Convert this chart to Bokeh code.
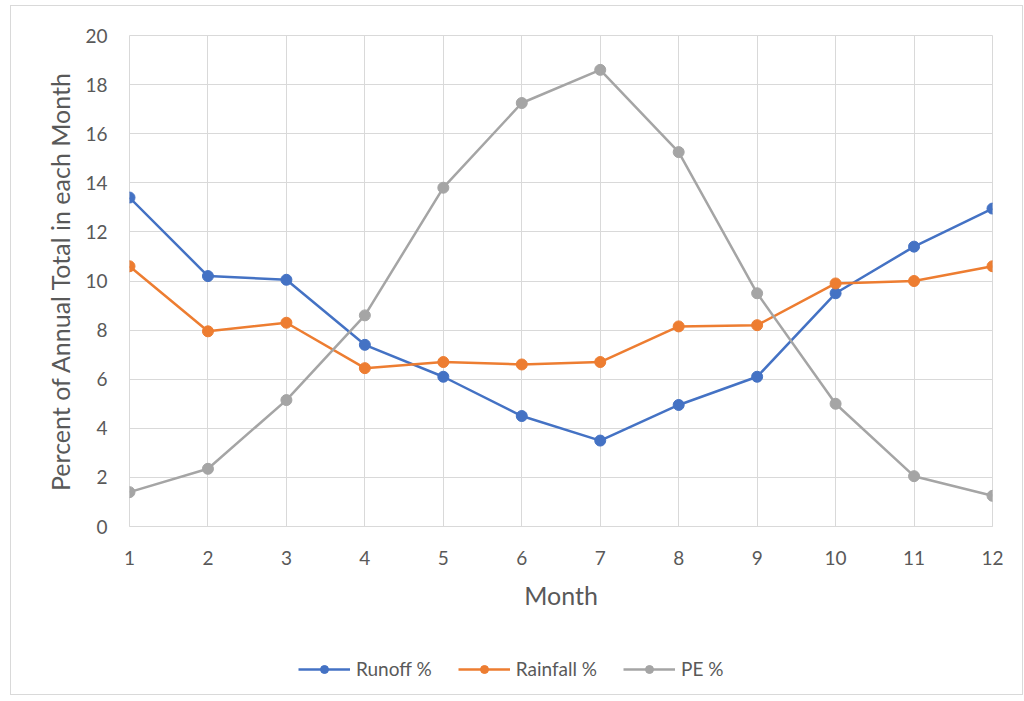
from bokeh.plotting import figure
from bokeh.layouts import column
from bokeh.models import Legend, LegendItem, FixedTicker, Range1d
from bokeh.embed import file_html
from bokeh.resources import INLINE

months = [1, 2, 3, 4, 5, 6, 7, 8, 9, 10, 11, 12]
runoff = [13.4, 10.2, 10.05, 7.4, 6.1, 4.5, 3.5, 4.95, 6.1, 9.5, 11.4, 12.95]
rainfall = [10.6, 7.95, 8.3, 6.45, 6.7, 6.6, 6.7, 8.15, 8.2, 9.9, 10.0, 10.6]
pe = [1.4, 2.35, 5.15, 8.6, 13.8, 17.25, 18.6, 15.25, 9.5, 5.0, 2.05, 1.25]
series_names = ["Runoff %", "Rainfall %", "PE %"]
colors = ["#4472C4", "#ED7D31", "#A5A5A5"]
y_ticks = list(range(0, 21, 2))

FONT = "Lato"
TXT = "#595959"
GRID = "#d9d9d9"

p = figure(frame_width=863, frame_height=491, output_backend="svg", toolbar_location=None,
           x_range=Range1d(1, 12), y_range=Range1d(0, 20),
           min_border_left=118, min_border_right=30, min_border_top=29,
           min_border_bottom=118)
p.outline_line_color = GRID
p.outline_line_width = 1

p.xaxis.ticker = FixedTicker(ticks=months)
p.yaxis.ticker = FixedTicker(ticks=y_ticks)
for ax in (p.xaxis, p.yaxis):
    ax.axis_line_color = None
    ax.major_tick_line_color = None
    ax.minor_tick_line_color = None
    ax.major_label_text_font = FONT
    ax.major_label_text_font_size = "19px"
    ax.major_label_text_color = TXT
    ax.axis_label_text_font = FONT
    ax.axis_label_text_font_size = "25px"
    ax.axis_label_text_color = TXT
    ax.axis_label_text_font_style = "normal"
p.xaxis.axis_line_color = GRID
p.xaxis.major_label_standoff = 18
p.yaxis.major_label_standoff = 16
p.xaxis.axis_label = "Month"
p.yaxis.axis_label = "Percent of Annual Total in each Month"
p.xaxis.axis_label_standoff = 12
p.yaxis.axis_label_standoff = 7
p.xgrid.grid_line_color = GRID
p.ygrid.grid_line_color = GRID

data = [runoff, rainfall, pe]
for vals, c in zip(data, colors):
    p.line(months, vals, line_color=c, line_width=2.5)
    p.scatter(months, vals, size=11, fill_color=c, line_color=c)

# separate strip holding the legend below the chart (its ranges keep the
# series themselves out of view, only the legend is seen)
lf = figure(width=1011, height=50, output_backend="svg", toolbar_location=None,
            x_axis_location=None, y_axis_location=None,
            x_range=Range1d(100, 101), y_range=Range1d(100, 101),
            min_border_left=0, min_border_right=0, min_border_top=0,
            min_border_bottom=0)
lf.outline_line_color = None
lf.grid.visible = False
items = []
for name, vals, c in zip(series_names, data, colors):
    l = lf.line(months, vals, line_color=c, line_width=2.5)
    s = lf.scatter(months, vals, size=11, fill_color=c, line_color=c)
    items.append(LegendItem(label=name, renderers=[l, s]))

legend = Legend(items=items, orientation="horizontal", location=(169, 14),
                border_line_alpha=0, background_fill_alpha=0,
                label_text_font=FONT, label_text_font_size="19px",
                label_text_color=TXT, glyph_width=52, glyph_height=20,
                label_standoff=6, spacing=26, margin=0, padding=0)
lf.add_layout(legend, "center")

layout = column(p, lf, spacing=0)
layout.styles = {"border": "1px solid #d9d9d9", "margin-left": "10px", "margin-top": "5px"}

open("out.html", "w").write(file_html(layout, INLINE))
